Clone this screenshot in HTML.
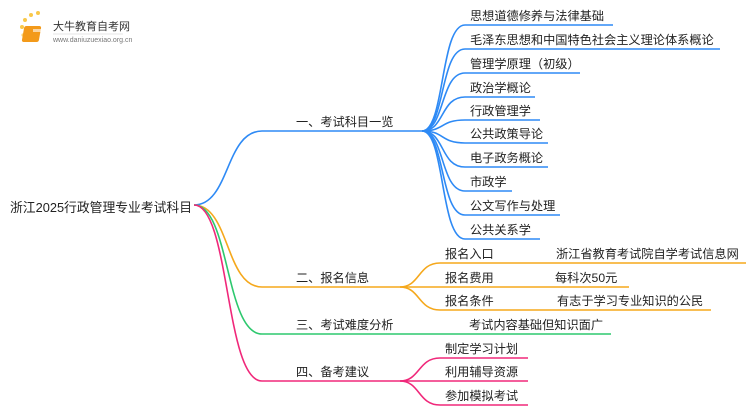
<!DOCTYPE html>
<html><head><meta charset="utf-8"><style>
body{margin:0;background:#fff;width:750px;height:410px;overflow:hidden}
svg text{font-family:"Liberation Sans","Noto Sans CJK SC",sans-serif;font-size:12.2px;fill:#222}
</style></head><body>
<svg width="750" height="410" viewBox="0 0 750 410" xmlns="http://www.w3.org/2000/svg">
<g>
<circle cx="22" cy="27" r="2" fill="#f9c84a"/><circle cx="25" cy="20" r="2" fill="#f9c84a"/><circle cx="31" cy="15" r="2" fill="#f9c84a"/><circle cx="38" cy="13" r="2" fill="#f9c84a"/><circle cx="23" cy="35" r="1.6" fill="#f9d77a"/>
<rect x="29" y="26" width="17" height="16" rx="2" fill="#f39a1a" transform="skewX(-10)"/>
<rect x="33" y="29" width="11" height="3" fill="#fff" opacity=".6"/>
<text x="53" y="30" style="font-size:11px;fill:#333">大牛教育自考网</text>
<text x="53" y="42" style="font-size:7px;fill:#777">www.daniuzuexiao.org.cn</text>
<line x1="53" y1="34" x2="123" y2="34" stroke="#ccc" stroke-width=".6"/>
</g>
<g fill="none" stroke-width="1.6">
<g stroke="#2e8af5">
<path d="M194 205 C230 205 225 131 262 131 L422 131"/>
<path d="M422 131 C445 131 440 25 465 25 L613 25"/>
<path d="M422 131 C445 131 440 49 465 49 L720 49"/>
<path d="M422 131 C445 131 440 73 465 73 L580 73"/>
<path d="M422 131 C445 131 440 97 465 97 L535 97"/>
<path d="M422 131 C445 131 440 120 465 120 L540 120"/>
<path d="M422 131 C445 131 440 143 465 143 L548 143"/>
<path d="M422 131 C445 131 440 167 465 167 L548 167"/>
<path d="M422 131 C445 131 440 191 465 191 L512 191"/>
<path d="M422 131 C445 131 440 215 465 215 L560 215"/>
<path d="M422 131 C445 131 440 239 465 239 L540 239"/>
</g>
<g stroke="#f5a81c">
<path d="M194 205 C230 205 225 287 262 287 L400 287"/>
<path d="M400 287 C420 287 418 263 440 263 L746 263"/>
<path d="M400 287 L629 287"/>
<path d="M400 287 C420 287 418 310 440 310 L711 310"/>
</g>
<g stroke="#2dc86e">
<path d="M194 205 C230 205 225 334 262 334 L611 334"/>
</g>
<g stroke="#f0287a">
<path d="M194 205 C230 205 225 381 262 381 L400 381"/>
<path d="M400 381 C420 381 418 358 440 358 L528 358"/>
<path d="M400 381 L528 381"/>
<path d="M400 381 C420 381 418 405 440 405 L528 405"/>
</g>
</g>
<text x="10" y="212" style="font-size:12.8px">浙江2025行政管理专业考试科目</text>
<text x="296" y="126">一、考试科目一览</text>
<text x="296" y="282">二、报名信息</text>
<text x="296" y="329">三、考试难度分析</text>
<text x="296" y="376">四、备考建议</text>
<text x="470" y="20">思想道德修养与法律基础</text>
<text x="470" y="44">毛泽东思想和中国特色社会主义理论体系概论</text>
<text x="470" y="68">管理学原理（初级）</text>
<text x="470" y="92">政治学概论</text>
<text x="470" y="115">行政管理学</text>
<text x="470" y="138">公共政策导论</text>
<text x="470" y="162">电子政务概论</text>
<text x="470" y="186">市政学</text>
<text x="470" y="210">公文写作与处理</text>
<text x="470" y="234">公共关系学</text>
<text x="445" y="258">报名入口</text>
<text x="556" y="258">浙江省教育考试院自学考试信息网</text>
<text x="445" y="282">报名费用</text>
<text x="555" y="282">每科次50元</text>
<text x="445" y="305">报名条件</text>
<text x="557" y="305">有志于学习专业知识的公民</text>
<text x="469" y="329">考试内容基础但知识面广</text>
<text x="445" y="353">制定学习计划</text>
<text x="445" y="376">利用辅导资源</text>
<text x="445" y="400">参加模拟考试</text>
</svg>
</body></html>
